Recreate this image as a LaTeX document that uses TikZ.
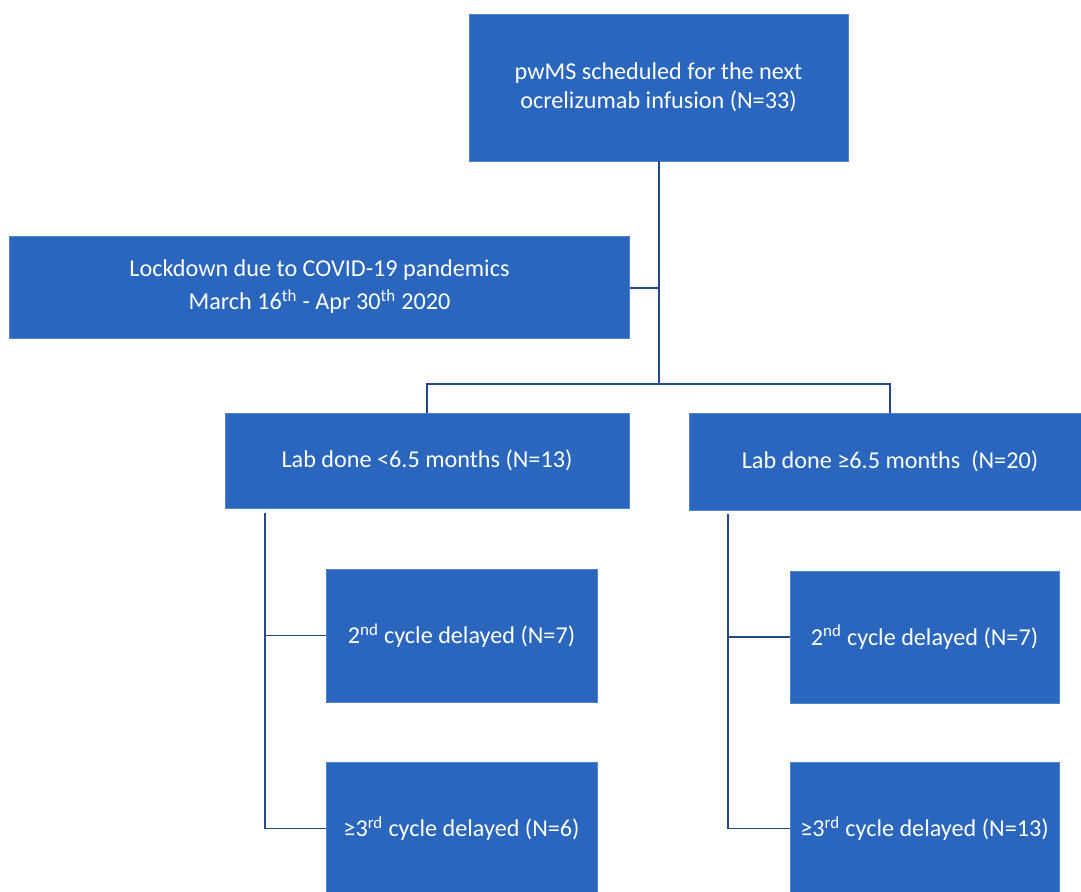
\documentclass[tikz,border=0pt]{standalone}
\usepackage{fontspec}
\setmainfont{Carlito}
\usetikzlibrary{positioning}
\definecolor{boxblue}{HTML}{2A66BE}
\definecolor{boxedge}{HTML}{4F84D2}
\definecolor{linkblue}{HTML}{24478F}
\begin{document}
\begin{tikzpicture}[x=0.025cm, y=-0.025cm, semithick,
    block/.style={rectangle, draw=boxedge, fill=boxblue, text=white, align=center, inner sep=0pt,
      font=\fontsize{17.2}{20.5}\selectfont},
    link/.style={linkblue, line width=1.4pt}]
      \useasboundingbox (0,0) rectangle (1081,892);
      \node[block, minimum width=9.475cm, minimum height=3.675cm] (top) at (658.5,87.5)
        {pwMS scheduled for the next\\ocrelizumab infusion (N=33)};
      \node[block, minimum width=15.475cm, minimum height=2.55cm] (lock) at (319.5,287)
        {Lockdown due to COVID-19 pandemics\\[3pt]March 16\textsuperscript{th} - Apr 30\textsuperscript{th} 2020};
      \node[block, minimum width=10.1cm, minimum height=2.375cm] (labL) at (427,460.5)
        {Lab done <6.5 months (N=13)};
      \node[block, minimum width=10.05cm, minimum height=2.425cm] (labR) at (890,461.5)
        {Lab done ≥6.5 months~ (N=20)};
      \node[block, minimum width=6.775cm, minimum height=3.325cm] (c2L) at (461.5,635.5)
        {2\textsuperscript{nd} cycle delayed (N=7)};
      \node[block, minimum width=6.775cm, minimum height=3.325cm] (c3L) at (461.5,828.5)
        {≥3\textsuperscript{rd} cycle delayed (N=6)};
      \node[block, minimum width=6.725cm, minimum height=3.3cm] (c2R) at (924.5,637)
        {2\textsuperscript{nd} cycle delayed (N=7)};
      \node[block, minimum width=6.725cm, minimum height=3.325cm] (c3R) at (924.5,828.5)
        {≥3\textsuperscript{rd} cycle delayed (N=13)};

      \coordinate (split) at (659,384);
      \coordinate (joint) at (659,288);
      \coordinate (leftA) at (265,513);
      \coordinate (rightA) at (728,514);

      \draw[link] (top.south -| split) -- (split);
      \draw[link] (lock.east |- joint) -- (joint);
      \draw[link] (labL.north) -- (labL.north |- split) -- (labR.north |- split) -- (labR.north);
      \draw[link] (leftA) -- (leftA |- c3L.west) -- (c3L.west);
      \draw[link] (leftA |- c2L.west) -- (c2L.west);
      \draw[link] (rightA) -- (rightA |- c3R.west) -- (c3R.west);
      \draw[link] (rightA |- c2R.west) -- (c2R.west);
    \end{tikzpicture}
\end{document}
